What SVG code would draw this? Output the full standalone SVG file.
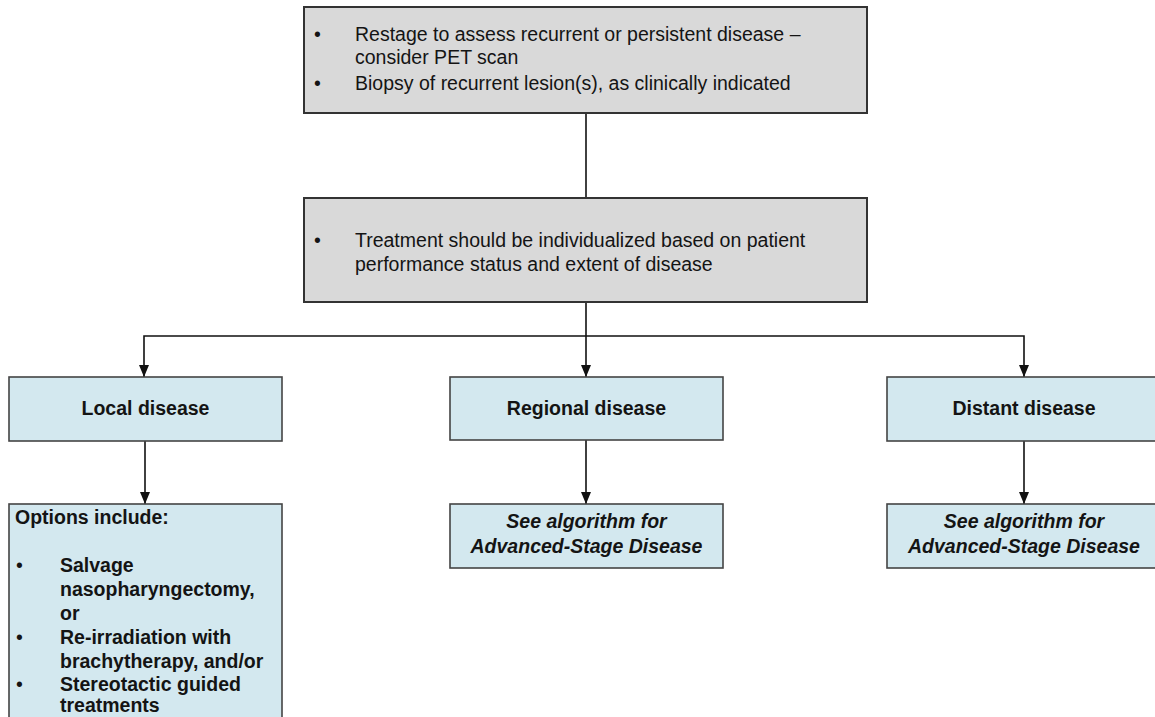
<svg xmlns="http://www.w3.org/2000/svg" width="1155" height="717" viewBox="0 0 1155 717">
  <style>
    .gray { fill: #d9d9d9; stroke: #333333; stroke-width: 2; }
    .blue { fill: #d3e8ef; stroke: #444444; stroke-width: 1.6; }
    .t { font-family: "Liberation Sans", Arial, sans-serif; font-size: 19.5px; fill: #141414; }
    .b { font-weight: bold; }
    .bi { font-weight: bold; font-style: italic; }
    .mid { text-anchor: middle; }
    .wire { stroke: #111111; stroke-width: 1.6; fill: none; }
  </style>
  <defs>
    <!-- filled triangular head, drawn along +x so orient="auto" points it down the line -->
    <marker id="arrow" viewBox="0 0 12 10" refX="12" refY="5" markerWidth="12" markerHeight="10" markerUnits="userSpaceOnUse" orient="auto-start-reverse">
      <path d="M0,0 L12,5 L0,10 Z" fill="#111111"/>
    </marker>
  </defs>
  <rect width="1155" height="717" fill="#ffffff"/>

  <g id="connectors">
    <line class="wire" x1="586" y1="113" x2="586" y2="198"/>
    <line class="wire" x1="586" y1="302" x2="586" y2="377" marker-end="url(#arrow)"/>
    <polyline class="wire" points="144,377 144,336 1024,336 1024,377" marker-start="url(#arrow)" marker-end="url(#arrow)"/>
    <line class="wire" x1="145" y1="441" x2="145" y2="504" stroke="#444444" marker-end="url(#arrow)"/>
    <line class="wire" x1="586" y1="440" x2="586" y2="504" marker-end="url(#arrow)"/>
    <line class="wire" x1="1024" y1="441" x2="1024" y2="504" marker-end="url(#arrow)"/>
  </g>

  <g id="restage">
    <rect class="gray" x="304" y="7" width="563" height="106"/>
    <text class="t" x="314" y="41">•</text>
    <text class="t" x="355" y="41">Restage to assess recurrent or persistent disease –</text>
    <text class="t" x="355" y="64">consider PET scan</text>
    <text class="t" x="314" y="90">•</text>
    <text class="t" x="355" y="90">Biopsy of recurrent lesion(s), as clinically indicated</text>
  </g>

  <g id="individualize">
    <rect class="gray" x="304" y="198" width="563" height="104"/>
    <text class="t" x="314" y="247">•</text>
    <text class="t" x="355" y="247">Treatment should be individualized based on patient</text>
    <text class="t" x="355" y="271">performance status and extent of disease</text>
  </g>

  <g id="local">
    <rect class="blue" x="9" y="377" width="273" height="64"/>
    <text class="t b mid" x="145.5" y="415">Local disease</text>
  </g>

  <g id="regional">
    <rect class="blue" x="450" y="377" width="273" height="63"/>
    <text class="t b mid" x="586.5" y="415">Regional disease</text>
  </g>

  <g id="distant">
    <rect class="blue" x="887" y="377" width="274" height="64"/>
    <text class="t b mid" x="1024" y="415">Distant disease</text>
  </g>

  <g id="local-options">
    <rect class="blue" x="9" y="504" width="273" height="230"/>
    <text class="t b" x="15" y="524">Options include:</text>
    <text class="t" x="16" y="572">•</text>
    <text class="t b" x="60" y="572">Salvage</text>
    <text class="t b" x="60" y="596">nasopharyngectomy,</text>
    <text class="t b" x="60" y="620">or</text>
    <text class="t" x="16" y="644">•</text>
    <text class="t b" x="60" y="644">Re-irradiation with</text>
    <text class="t b" x="60" y="668">brachytherapy, and/or</text>
    <text class="t" x="16" y="691">•</text>
    <text class="t b" x="60" y="691">Stereotactic guided</text>
    <text class="t b" x="60" y="712">treatments</text>
  </g>

  <g id="regional-next">
    <rect class="blue" x="450" y="504" width="273" height="64"/>
    <text class="t bi mid" x="586.5" y="528">See algorithm for</text>
    <text class="t bi mid" x="586.5" y="553">Advanced-Stage Disease</text>
  </g>

  <g id="distant-next">
    <rect class="blue" x="887" y="504" width="274" height="64"/>
    <text class="t bi mid" x="1024" y="528">See algorithm for</text>
    <text class="t bi mid" x="1024" y="553">Advanced-Stage Disease</text>
  </g>
</svg>
